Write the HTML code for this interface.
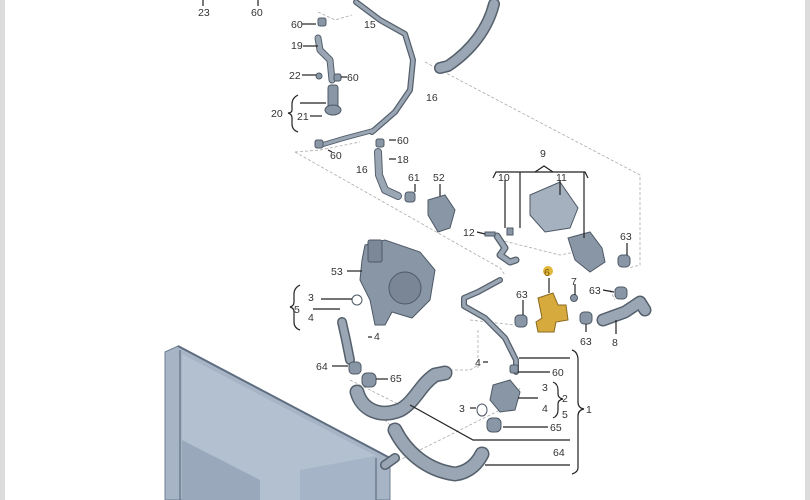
<!DOCTYPE html>
<html><head><meta charset="utf-8"><style>
html,body{margin:0;padding:0;background:#fff}
body{width:810px;height:500px;overflow:hidden;position:relative}
svg{position:absolute;left:0;top:0}
text{font-family:"Liberation Sans",sans-serif;font-size:10.5px;fill:#333}
</style></head><body>
<svg width="810" height="500" viewBox="0 0 810 500">
<rect x="0" y="0" width="5" height="500" fill="#dcdcdc"/>
<rect x="805" y="0" width="5" height="500" fill="#dcdcdc"/>
<g stroke="#aaa" stroke-width="0.8" fill="none" stroke-dasharray="3,2">
<polyline points="318,12 335,20 352,15"/>
<polyline points="425,62 640,175 640,265 628,268"/>
<polyline points="295,152 320,150 360,142"/>
<polyline points="295,152 500,268 505,275"/>
<polyline points="500,240 560,255 585,250"/>
<polyline points="470,320 515,325 525,320"/>
<polyline points="610,290 615,300"/>
<line x1="478" y1="330" x2="478" y2="370"/>
<polyline points="440,370 470,370 478,365"/>
<line x1="380" y1="470" x2="500" y2="410"/>
<line x1="360" y1="395" x2="395" y2="430"/>
<line x1="350" y1="380" x2="410" y2="410"/>
<line x1="520" y1="388" x2="510" y2="405"/>
</g>
<polygon points="165,352 178,346 390,458 390,500 165,500" fill="#a6b4c6" stroke="#6e7d90" stroke-width="1"/>
<polygon points="182,354 376,456 376,500 182,500" fill="#b3c0d0"/>
<polygon points="182,440 260,480 260,500 182,500" fill="#8f9eb2" opacity="0.7"/>
<polygon points="300,470 376,456 376,500 300,500" fill="#98a8bb" opacity="0.5"/>
<line x1="178" y1="346" x2="390" y2="458" stroke="#5e6d80" stroke-width="2"/>
<line x1="180" y1="350" x2="180" y2="500" stroke="#6e7d90" stroke-width="1.5"/>
<line x1="376" y1="458" x2="376" y2="500" stroke="#6e7d90" stroke-width="1.5"/>
<g fill="none" stroke-linecap="round" stroke-linejoin="round">
<g stroke="#55606c">
<path d="M494,4 C488,28 472,50 448,66 L440,68" stroke-width="12"/>
<path d="M356,2 L380,20 L405,34 L413,60 L410,90 L395,112 L372,132" stroke-width="6"/>
<path d="M375,130 L345,138 L318,146" stroke-width="5"/>
<path d="M318,38 L320,50 L330,60 L332,80" stroke-width="7"/>
<path d="M378,152 L379,175 L385,190 L398,196" stroke-width="8"/>
<path d="M500,280 L478,292 L464,298 L464,306 L485,318 L505,338 L516,360 L516,372" stroke-width="6"/>
<path d="M342,322 L346,340 L350,360" stroke-width="10"/>
<path d="M357,392 C362,410 380,418 400,410 C415,402 420,385 435,375 L445,373" stroke-width="15"/>
<path d="M395,430 C405,450 425,470 455,474 C470,472 478,462 482,454" stroke-width="15"/>
<path d="M385,465 L395,458" stroke-width="10"/>
<path d="M603,320 L625,312 L640,302 L645,310" stroke-width="13"/>
<path d="M497,236 L505,248 L500,255 L510,262 L516,260" stroke-width="7"/>
</g>
<g stroke="#9aa6b4">
<path d="M494,4 C488,28 472,50 448,66 L440,68" stroke-width="9"/>
<path d="M356,2 L380,20 L405,34 L413,60 L410,90 L395,112 L372,132" stroke-width="3.5"/>
<path d="M375,130 L345,138 L318,146" stroke-width="3"/>
<path d="M318,38 L320,50 L330,60 L332,80" stroke-width="5"/>
<path d="M378,152 L379,175 L385,190 L398,196" stroke-width="6"/>
<path d="M500,280 L478,292 L464,298 L464,306 L485,318 L505,338 L516,360 L516,372" stroke-width="3.5"/>
<path d="M342,322 L346,340 L350,360" stroke-width="7"/>
<path d="M357,392 C362,410 380,418 400,410 C415,402 420,385 435,375 L445,373" stroke-width="12"/>
<path d="M395,430 C405,450 425,470 455,474 C470,472 478,462 482,454" stroke-width="12"/>
<path d="M385,465 L395,458" stroke-width="7"/>
<path d="M603,320 L625,312 L640,302 L645,310" stroke-width="10"/>
<path d="M497,236 L505,248 L500,255 L510,262 L516,260" stroke-width="4.5"/>
</g>
</g>
<g fill="#8996a6" stroke="#4e5966" stroke-width="1">
<rect x="318" y="18" width="8" height="8" rx="2"/>
<rect x="328" y="85" width="10" height="24" rx="3"/>
<ellipse cx="333" cy="110" rx="8" ry="5"/>
<circle cx="319" cy="76" r="3"/>
<rect x="334" y="74" width="7" height="7" rx="2"/>
<rect x="315" y="140" width="8" height="8" rx="2"/>
<rect x="376" y="139" width="8" height="8" rx="2"/>
<rect x="405" y="192" width="10" height="10" rx="3"/>
<path d="M428,200 L445,195 L455,210 L450,228 L438,232 L428,215 Z"/>
<path d="M530,195 L560,182 L578,208 L570,228 L545,232 L530,215 Z" fill="#a5b1bf"/>
<path d="M568,238 L590,232 L602,248 L605,262 L590,272 L575,260 Z"/>
<rect x="618" y="255" width="12" height="12" rx="4"/>
<rect x="507" y="228" width="6" height="7"/>
<rect x="485" y="232" width="10" height="4"/>
<path d="M365,245 L385,240 L420,252 L435,270 L430,300 L412,318 L392,312 L385,325 L375,325 L370,300 L360,280 L362,260 Z"/>
<rect x="368" y="240" width="14" height="22" rx="2" fill="#7c8898"/>
<circle cx="405" cy="288" r="16" fill="#7a8696"/>
<circle cx="357" cy="300" r="5" fill="none"/>
<rect x="515" y="315" width="12" height="12" rx="4"/>
<rect x="580" y="312" width="12" height="12" rx="4"/>
<rect x="615" y="287" width="12" height="12" rx="4"/>
<circle cx="574" cy="298" r="3.5"/>
<rect x="349" y="362" width="12" height="12" rx="4"/>
<rect x="362" y="373" width="14" height="14" rx="5"/>
<rect x="510" y="365" width="8" height="8" rx="2"/>
<path d="M493,385 L510,380 L520,392 L515,410 L500,412 L490,400 Z"/>
<ellipse cx="482" cy="410" rx="5" ry="6" fill="none"/>
<rect x="487" y="418" width="14" height="14" rx="5"/>
</g>
<path d="M538,298 L553,293 L558,305 L566,305 L568,320 L556,322 L554,332 L538,332 L536,322 L542,318 Z" fill="#d6aa3c" stroke="#8a6a20" stroke-width="1"/>
<circle cx="548" cy="271" r="5" fill="#e2b838"/>
<g stroke="#222" stroke-width="1.2" fill="none">
<line x1="203" y1="0" x2="203" y2="6"/><line x1="258" y1="0" x2="258" y2="6"/>
<line x1="302" y1="24" x2="316" y2="24"/>
<line x1="303" y1="46" x2="318" y2="46"/>
<line x1="302" y1="75" x2="316" y2="75"/>
<line x1="341" y1="77" x2="347" y2="77"/>
<line x1="300" y1="103" x2="326" y2="103"/>
<line x1="310" y1="116" x2="322" y2="116"/>
<line x1="389" y1="140" x2="396" y2="140"/>
<line x1="332" y1="152" x2="328" y2="150"/>
<line x1="389" y1="159" x2="396" y2="159"/>
<line x1="415" y1="184" x2="415" y2="192"/>
<line x1="440" y1="184" x2="440" y2="196"/>
<polyline points="493,178 496,172 585,172 588,178"/>
<polyline points="535,172 544,166 553,172"/>
<line x1="505" y1="180" x2="505" y2="228"/>
<line x1="520" y1="172" x2="520" y2="228"/>
<line x1="560" y1="180" x2="560" y2="195"/>
<line x1="584" y1="172" x2="584" y2="238"/>
<line x1="477" y1="232" x2="485" y2="234"/>
<line x1="627" y1="243" x2="627" y2="255"/>
<line x1="549" y1="278" x2="549" y2="293"/>
<line x1="575" y1="284" x2="575" y2="295"/>
<line x1="347" y1="271" x2="362" y2="271"/>
<line x1="321" y1="299" x2="352" y2="299"/>
<line x1="313" y1="309" x2="340" y2="309"/>
<line x1="523" y1="300" x2="523" y2="315"/>
<line x1="603" y1="290" x2="614" y2="292"/>
<line x1="586" y1="324" x2="586" y2="332"/>
<line x1="616" y1="320" x2="616" y2="334"/>
<line x1="368" y1="337" x2="372" y2="337"/>
<line x1="332" y1="366" x2="348" y2="366"/>
<line x1="376" y1="379" x2="388" y2="379"/>
<line x1="483" y1="362" x2="488" y2="362"/>
<line x1="470" y1="408" x2="476" y2="408"/>
<line x1="519" y1="358" x2="570" y2="358"/>
<line x1="518" y1="372" x2="550" y2="372"/>
<line x1="518" y1="398" x2="538" y2="398"/>
<line x1="503" y1="427" x2="548" y2="427"/>
<polyline points="410,405 473,440 570,440"/>
<line x1="485" y1="465" x2="570" y2="465"/>
<path d="M572,350 Q578,352 578,360 L578,402 Q578,408 584,409 Q578,410 578,416 L578,468 Q578,472 572,474"/>
<path d="M553,382 Q558,384 558,390 L558,394 Q558,398 563,399 Q558,400 558,404 L558,410 Q558,416 553,418"/>
<path d="M300,285 Q294,288 294,294 L294,302 Q294,306 290,307 Q294,308 294,312 L294,322 Q294,328 300,330"/>
<path d="M298,95 Q292,98 292,104 L292,110 Q292,113 288,113 Q292,114 292,118 L292,124 Q292,130 298,132"/>
</g>
<text x="198" y="16">23</text><text x="251" y="16">60</text>
<text x="291" y="28">60</text>
<text x="291" y="49">19</text>
<text x="289" y="79">22</text><text x="347" y="81">60</text>
<text x="271" y="117">20</text><text x="297" y="120">21</text>
<text x="364" y="28">15</text>
<text x="426" y="101">16</text>
<text x="397" y="144">60</text>
<text x="330" y="159">60</text>
<text x="356" y="173">16</text>
<text x="397" y="163">18</text>
<text x="408" y="181">61</text>
<text x="433" y="181">52</text>
<text x="540" y="157">9</text>
<text x="498" y="181">10</text>
<text x="556" y="181">11</text>
<text x="463" y="236">12</text>
<text x="620" y="240">63</text>
<text x="331" y="275">53</text>
<text x="544" y="276" style="fill:#7a5a10">6</text>
<text x="571" y="285">7</text>
<text x="589" y="294">63</text>
<text x="516" y="298">63</text>
<text x="308" y="301">3</text>
<text x="294" y="313">5</text>
<text x="308" y="321">4</text>
<text x="374" y="340">4</text>
<text x="580" y="345">63</text>
<text x="612" y="346">8</text>
<text x="316" y="370">64</text>
<text x="390" y="382">65</text>
<text x="475" y="366">4</text>
<text x="552" y="376">60</text>
<text x="542" y="391">3</text>
<text x="562" y="402">2</text>
<text x="586" y="413">1</text>
<text x="542" y="412">4</text>
<text x="562" y="418">5</text>
<text x="459" y="412">3</text>
<text x="550" y="431">65</text>
<text x="553" y="456">64</text>
</svg>
</body></html>
